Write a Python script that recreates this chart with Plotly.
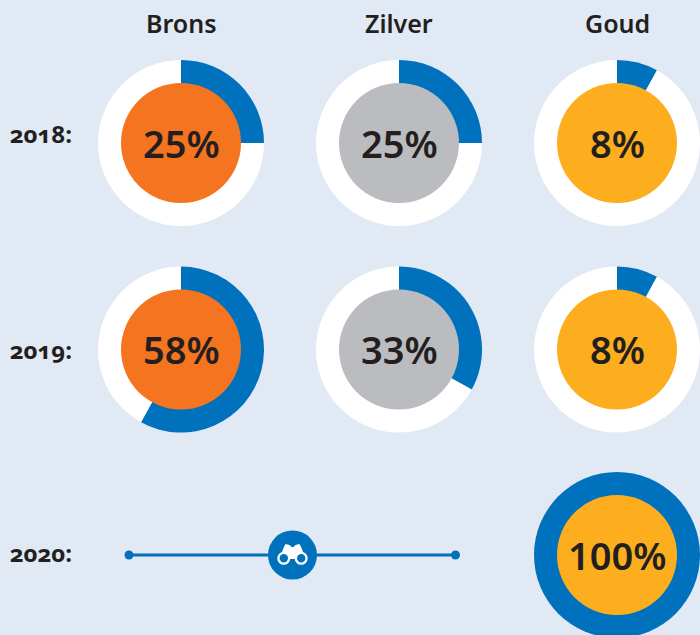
import plotly.graph_objects as go

W, H = 700, 641
columns = ["Brons", "Zilver", "Goud"]
years = ["2018:", "2019:", "2020:"]
share_2018 = [25, 25, 8]
share_2019 = [58, 33, 8]
share_2020_goud = 100
track_x = [129, 292.5, 455.5]
BG, BLUE, INK = "#E1E9F4", "#0071BC", "#231F20"
disc_colors = ["#F57420", "#BBBCBF", "#FCAE1E"]
col_x = [181, 399, 617]
row_y = [143, 349.5, 555]
R_OUT, R_IN = 83, 60
FONT = "Noto Sans"


def domain(cx, cy, r):
    return dict(x=[(cx - r) / W, min((cx + r) / W, 1)], y=[1 - (cy + r) / H, 1 - (cy - r) / H])


fig = go.Figure()
notes = []


def donut(cx, cy, pct, color):
    fig.add_trace(go.Pie(values=[pct, 100 - pct], sort=False, direction="clockwise", rotation=0,
                         hole=0, domain=domain(cx, cy, R_OUT), textinfo="none", hoverinfo="skip",
                         marker=dict(colors=[BLUE, "#FFFFFF"], line=dict(width=0)), showlegend=False))
    fig.add_trace(go.Pie(values=[1], domain=domain(cx, cy, R_IN), textinfo="none", hoverinfo="skip",
                         marker=dict(colors=[color], line=dict(width=0)), showlegend=False))
    notes.append(dict(x=cx, y=cy - 0.5, text=f"{pct}%", showarrow=False, xanchor="center", yanchor="middle",
                      font=dict(family=FONT, size=38, color=INK, weight=600)))


for r, vals in enumerate([share_2018, share_2019]):
    for c, v in enumerate(vals):
        donut(col_x[c], row_y[r], v, disc_colors[c])
donut(col_x[2], row_y[2], share_2020_goud, disc_colors[2])

fig.add_trace(go.Scatter(x=track_x, y=[row_y[2]] * 3, mode="lines", line=dict(color=BLUE, width=3),
                         hoverinfo="skip", showlegend=False))
fig.add_trace(go.Scatter(x=[track_x[0], track_x[2]], y=[row_y[2]] * 2, mode="markers",
                         marker=dict(color=BLUE, size=9), hoverinfo="skip", showlegend=False))
fig.add_trace(go.Scatter(x=[track_x[1]], y=[row_y[2]], mode="markers",
                         marker=dict(color=BLUE, size=49), hoverinfo="skip", showlegend=False))

for c, name in enumerate(columns):
    notes.append(dict(x=col_x[c], y=22.5, text=name, showarrow=False, xanchor="center", yanchor="middle",
                      font=dict(family=FONT, size=25, color=INK, weight=600)))
for name, yy in zip(years, [133, 349, 552]):
    notes.append(dict(x=8, y=yy, text=name, showarrow=False, xanchor="left", yanchor="middle",
                      font=dict(family="Open Sans", size=24, color=INK, weight=700)))

# binoculars icon
ix, iy = track_x[1], row_y[2]
shapes = []
for dx in (-8.7, 8.7):
    shapes.append(dict(type="circle", xref="x", yref="y", x0=ix + dx - 6.5, x1=ix + dx + 6.5,
                       y0=iy + 3.3 - 6.5, y1=iy + 3.3 + 6.5, fillcolor="white", line_width=0))
shapes.append(dict(type="path", xref="x", yref="y", fillcolor="white", line_width=0,
                   path=f"M {ix-12} {iy+1} L {ix-9} {iy-7} L {ix-7} {iy-11} L {ix-3} {iy-10} L {ix-1} {iy-8} "
                        f"L {ix+1} {iy-8} L {ix+3} {iy-10} L {ix+7} {iy-11} L {ix+9} {iy-7} L {ix+12} {iy+1} "
                        f"L {ix+3} {iy+4} L {ix-3} {iy+4} Z"))
for dx in (-8.7, 8.7):
    shapes.append(dict(type="circle", xref="x", yref="y", x0=ix + dx - 4.2, x1=ix + dx + 4.2,
                       y0=iy + 3.3 - 4.2, y1=iy + 3.3 + 4.2, fillcolor=BLUE, line_width=0))

fig.update_layout(width=W, height=H, autosize=False, margin=dict(l=0, r=0, t=0, b=0),
                  paper_bgcolor=BG, plot_bgcolor=BG, annotations=notes, shapes=shapes,
                  xaxis=dict(range=[0, W], visible=False, fixedrange=True),
                  yaxis=dict(range=[H, 0], visible=False, fixedrange=True))
post = ("document.documentElement.style.overflow='hidden';document.body.style.margin='0';"
        "document.body.style.overflow='hidden';document.body.style.background='%s';"
        "document.querySelectorAll('text').forEach(t=>{if(/^20\\d\\d:$/.test(t.textContent)){"
        "t.style.fontVariantNumeric='oldstyle-nums';t.style.fontFeatureSettings='\"onum\"';}});" % BG)
fig.write_html("out.html", post_script=post, config=dict(displayModeBar=False))
